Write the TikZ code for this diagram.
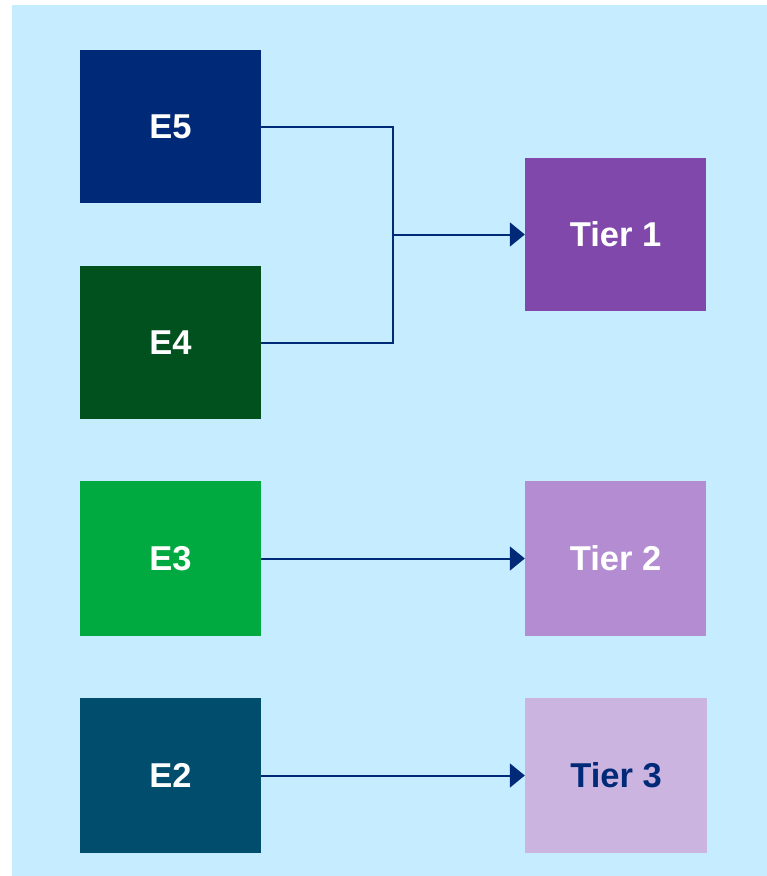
\documentclass[tikz,border=0pt]{standalone}
\usepackage{fontspec}
\setmainfont{Liberation Sans}
\usetikzlibrary{arrows.meta}
\definecolor{bgblue}{HTML}{C6ECFF}
\definecolor{navy}{HTML}{002A77}
\definecolor{cEfive}{HTML}{002A77}
\definecolor{cEfour}{HTML}{00511E}
\definecolor{cEthree}{HTML}{00AA40}
\definecolor{cEtwo}{HTML}{004D6E}
\definecolor{cTone}{HTML}{8048AA}
\definecolor{cTtwo}{HTML}{B48CD2}
\definecolor{cTthree}{HTML}{CCB4E0}
\tikzset{
  box/.style={minimum width=181pt, minimum height=153pt, inner sep=0pt,
    text=white, font=\fontsize{34.5}{40}\selectfont\bfseries},
  link/.style={draw=navy, line width=2pt},
  arr/.style={link, -{Triangle[length=15pt, width=24pt]}},
}
\begin{document}
\begin{tikzpicture}[x=1pt, y=-1pt]
  \useasboundingbox (0,0) rectangle (767,876);
  \fill[bgblue] (12,5) rectangle (767,876);
  % source boxes
  \node[box, fill=cEfive]  (e5) at (170.5,126.5) {E5};
  \node[box, fill=cEfour]  (e4) at (170.5,342.5) {E4};
  \node[box, fill=cEthree, minimum height=155pt] (e3) at (170.5,558.5) {E3};
  \node[box, fill=cEtwo,   minimum height=155pt] (e2) at (170.5,775.5) {E2};
  % target boxes
  \node[box, fill=cTone]   (t1) at (615.5,234.5) {Tier 1};
  \node[box, fill=cTtwo,   minimum height=155pt] (t2) at (615.5,558.5) {Tier 2};
  \node[box, fill=cTthree, minimum height=155pt, minimum width=182pt, text=navy] (t3) at (616,775.5) {Tier 3};
  % connectors
  \coordinate (j) at (393,234.5);
  \draw[link] (e5.east) -| (j) |- (e4.east);
  \draw[arr] (j) -- (t1.west);
  \draw[arr] (e3.east) -- (t2.west);
  \draw[arr] (e2.east) -- (t3.west);
\end{tikzpicture}
\end{document}
